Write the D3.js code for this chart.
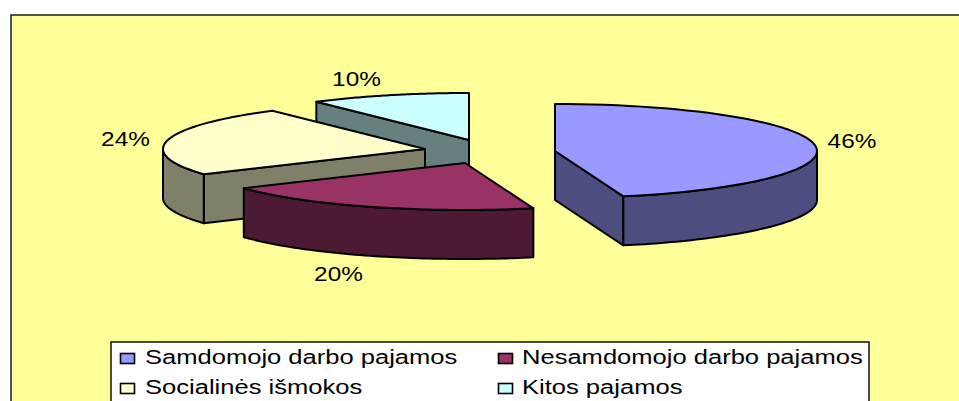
<!DOCTYPE html>
<html><head><meta charset="utf-8">
<script src="https://cdnjs.cloudflare.com/ajax/libs/d3/7.8.5/d3.min.js"></script>
<style>html,body{margin:0;padding:0;background:#fff;overflow:hidden}svg{display:block}text{font-family:"Liberation Sans",Arial,sans-serif;fill:#000}</style>
</head><body><svg id="c" width="959" height="401"></svg>
<script>
const categories = ["Samdomojo darbo pajamos","Nesamdomojo darbo pajamos","Socialinės išmokos","Kitos pajamos"];
const values = [45.8,20.2,24.1,9.9];
const valueLabels = ["46%","20%","24%","10%"];
const topColors = ["#9999FF","#993366","#FFFFCC","#CCFFFF"];
const wallColors = ["#4D4D80","#4D1A33","#80806A","#668080"];

const apexes = [[555,151],[465,163],[425,149],[469,140]];
const labelPos = [[852,148],[338.5,281],[125.5,146],[356.5,86]];
const drawOrder = [3,2,1,0];
const depth = 49, rx = 262, ry = 47;
const px = d3.scaleLinear().domain([-1,1]).range([-rx,rx]);
const py = d3.scaleLinear().domain([-1,1]).range([-ry,ry]);

const svg = d3.select("#c");
svg.append("rect").attr("x",11).attr("y",15).attr("width",960).attr("height",400)
   .attr("fill","#FFFF99").attr("stroke","#2a2a2a").attr("stroke-width",1.6);

const arcs = d3.pie().sort(null).value(d=>d)(values);
const line = d3.line().curve(d3.curveLinear);
const pt = (i,a,dz=0)=>[apexes[i][0]+px(Math.sin(a)), apexes[i][1]+py(-Math.cos(a))+dz];
const sample = (i,a,b,dz=0)=>d3.range(0,61).map(k=>pt(i,a+(b-a)*k/60,dz));
const style = (sel,fill)=>sel.attr("fill",fill).attr("stroke","#000").attr("stroke-width",2).attr("stroke-linejoin","round");

drawOrder.forEach(i=>{
  const {startAngle:a,endAngle:b} = arcs[i];
  const g = svg.append("g");
  const apex = apexes[i];
  const base = [apex[0],apex[1]+depth];
  if (Math.sin(a) < -1e-6) style(g.append("path").attr("d",line([apex,pt(i,a),pt(i,a,depth),base])+"Z"),wallColors[i]);
  if (Math.sin(b) > 1e-6) style(g.append("path").attr("d",line([apex,pt(i,b),pt(i,b,depth),base])+"Z"),wallColors[i]);
  const fa = Math.max(a,Math.PI/2), fb = Math.min(b,Math.PI*1.5);
  if (fb>fa) style(g.append("path").attr("d",line([...sample(i,fa,fb),...sample(i,fb,fa,depth)])+"Z"),wallColors[i]);
  style(g.append("path").attr("d",line([apex,...sample(i,a,b)])+"Z"),topColors[i]);
});

valueLabels.forEach((t,i)=>svg.append("text")
  .attr("transform",`translate(${labelPos[i][0]},${labelPos[i][1]}) scale(1.25,1)`)
  .attr("text-anchor","middle").attr("font-size",19.5).text(t));

const lg = svg.append("g");
lg.append("rect").attr("x",111).attr("y",342).attr("width",758).attr("height",80).attr("fill","#fff").attr("stroke","#000").attr("stroke-width",1.4);
const colX = [120.5,498.5], rowY = [353.5,383.5], textX = [145,522], textY = [364,393.5];
categories.forEach((c,i)=>{
  const col = i%2, row = i>>1;
  lg.append("rect").attr("x",colX[col]).attr("y",rowY[row]).attr("width",14).attr("height",10).attr("fill",topColors[i]).attr("stroke","#000").attr("stroke-width",1.6);
  lg.append("text").attr("transform",`translate(${textX[col]},${textY[row]}) scale(1.31,1)`).attr("font-size",19.5).text(c);
});
</script></body></html>
